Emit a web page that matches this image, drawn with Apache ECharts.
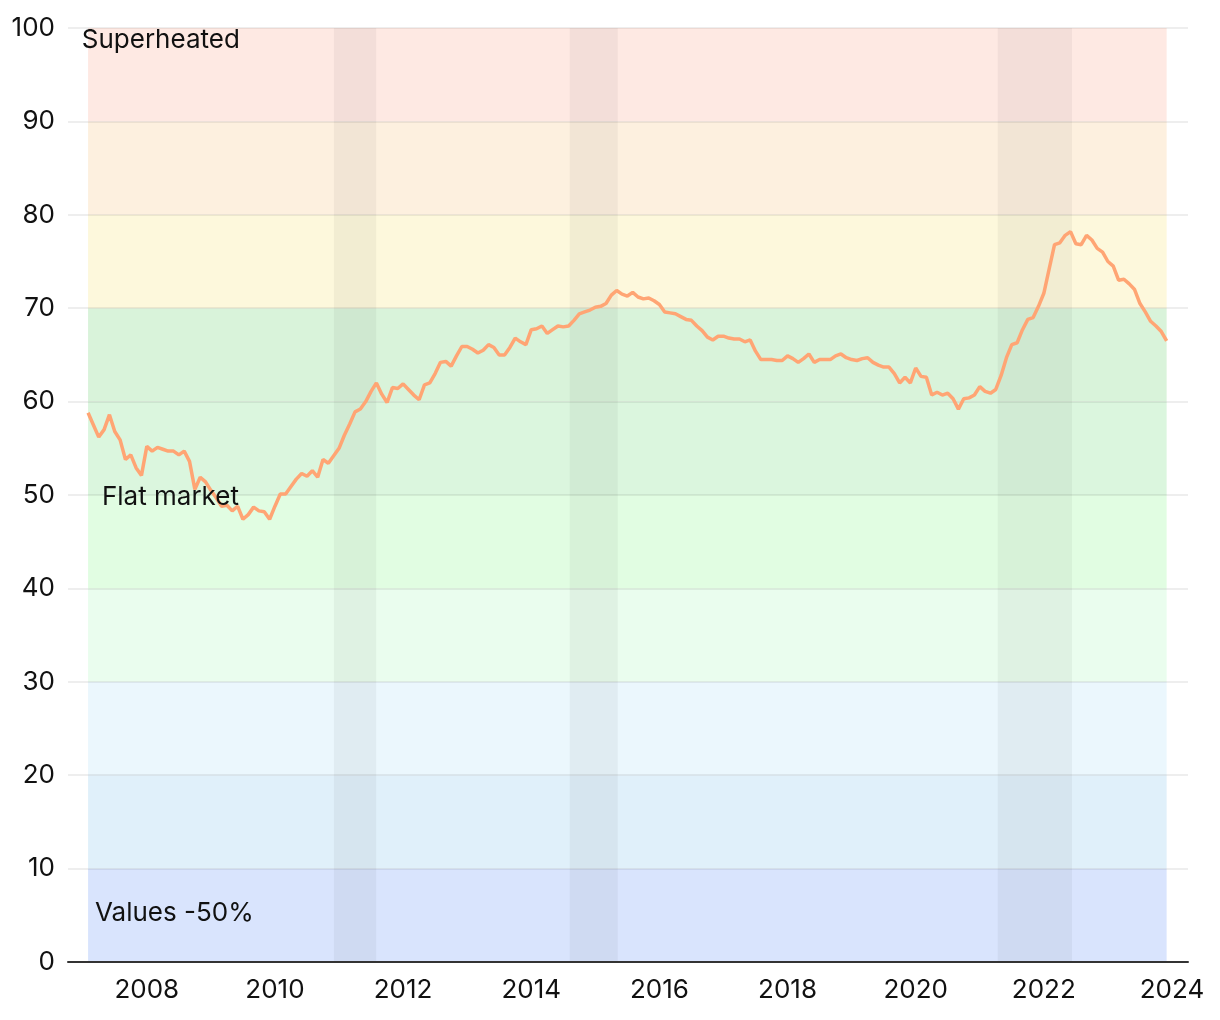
<!DOCTYPE html>
<html>
<head>
<meta charset="utf-8">
<script src="https://cdn.jsdelivr.net/npm/echarts@6/dist/echarts.min.js"></script>
<style>
html,body{margin:0;padding:0;background:#fff;}
#chart{width:1220px;height:1020px;}
</style>
</head>
<body>
<div id="chart"></div>
<script>
// Monthly index values, starting February 2007
const startYear = 2007;
const startMonth = 2;
const values = [
  58.8, 57.5, 56.2, 57.0, 58.6, 56.8, 55.9, 53.8, 54.3, 52.9, 52.1, 55.2, 54.7,
  55.1, 54.9, 54.7, 54.7, 54.3, 54.7, 53.6, 50.6, 51.9, 51.4, 50.5, 49.7, 48.8,
  48.9, 48.3, 48.8, 47.4, 47.9, 48.7, 48.3, 48.2, 47.4, 48.8, 50.1, 50.1, 50.9,
  51.7, 52.3, 52.0, 52.6, 51.9, 53.8, 53.4, 54.2, 55.0, 56.4, 57.6, 58.9, 59.2,
  60.0, 61.1, 62.0, 60.8, 59.9, 61.5, 61.4, 61.9, 61.3, 60.7, 60.2, 61.8, 62.0,
  63.0, 64.2, 64.3, 63.8, 64.9, 65.9, 65.9, 65.6, 65.2, 65.5, 66.1, 65.8, 65.0,
  65.0, 65.8, 66.8, 66.4, 66.1, 67.7, 67.8, 68.1, 67.3, 67.7, 68.1, 68.0, 68.1,
  68.7, 69.4, 69.6, 69.8, 70.1, 70.2, 70.5, 71.4, 71.9, 71.5, 71.3, 71.7, 71.2,
  71.0, 71.1, 70.8, 70.4, 69.6, 69.5, 69.4, 69.1, 68.8, 68.7, 68.1, 67.6, 66.9,
  66.6, 67.0, 67.0, 66.8, 66.7, 66.7, 66.4, 66.6, 65.4, 64.5, 64.5, 64.5, 64.4,
  64.4, 64.9, 64.6, 64.2, 64.6, 65.1, 64.2, 64.5, 64.5, 64.5, 64.9, 65.1, 64.7,
  64.5, 64.4, 64.6, 64.7, 64.2, 63.9, 63.7, 63.7, 63.0, 62.0, 62.6, 62.0, 63.6,
  62.7, 62.6, 60.7, 61.0, 60.7, 60.9, 60.3, 59.2, 60.3, 60.4, 60.7, 61.6, 61.1,
  60.9, 61.3, 62.8, 64.7, 66.1, 66.3, 67.7, 68.8, 69.0, 70.2, 71.6, 74.2, 76.8,
  77.0, 77.8, 78.2, 76.9, 76.8, 77.8, 77.3, 76.4, 76.0, 75.0, 74.5, 73.0, 73.1,
  72.6, 72.0, 70.5, 69.6, 68.6, 68.1, 67.5, 66.5
];

// Horizontal zones (bottom edge of each 10-pt band) and colours
const bandStarts = [0, 10, 20, 30, 40, 50, 60, 70, 80, 90];
const bandColors = ['#d9e4fd', '#e0f0fa', '#ebf7fd', '#eafdee', '#e1fde2', '#dbf6de', '#d9f3da', '#fdf8dc', '#fdf0df', '#fee9e3'];

// Shaded periods (decimal years)
const shadedPeriods = [[2010.92, 2011.58], [2014.6, 2015.35], [2021.28, 2022.44]];

// Zone labels: [text, year, value]
const zoneLabels = [
  ['Superheated', 2006.985, 98.7],
  ['Flat market', 2007.30, 49.8],
  ['Values -50%', 2007.19, 5.25]
];

const xTickYears = [2008, 2010, 2012, 2014, 2016, 2018, 2020, 2022, 2024];
const yTicks = [0, 10, 20, 30, 40, 50, 60, 70, 80, 90, 100];

const FONT = 'Inter, "Noto Sans", sans-serif';
const FS = 26;

const lineData = values.map((v, i) => [startYear + (startMonth - 1 + i) / 12, v]);
const xFirst = lineData[0][0];
const xLast = lineData[lineData.length - 1][0];

const bandAreas = bandStarts.map((b, i) => [
  { xAxis: xFirst, yAxis: b, itemStyle: { color: bandColors[i] } },
  { xAxis: xLast, yAxis: b + 10 }
]);
const shadeAreas = shadedPeriods.map(p => [
  { xAxis: p[0], yAxis: 0, itemStyle: { color: 'rgba(0,0,0,0.045)' } },
  { xAxis: p[1], yAxis: 100 }
]);

const chart = echarts.init(document.getElementById('chart'), null, { renderer: 'canvas' });
chart.setOption({
  animation: false,
  textStyle: { fontFamily: FONT },
  grid: { left: 68, right: 32, top: 28, bottom: 58, containLabel: false },
  xAxis: {
    type: 'value',
    min: 2006.77,
    max: 2024.25,
    z: 4,
    axisLine: { show: true, lineStyle: { color: '#333', width: 2 } },
    axisTick: { show: false },
    splitLine: { show: false },
    axisLabel: {
      customValues: xTickYears,
      formatter: v => String(v),
      color: '#111',
      fontSize: FS,
      fontFamily: FONT,
      margin: 15
    }
  },
  yAxis: {
    type: 'value',
    min: 0,
    max: 100,
    interval: 10,
    z: 3,
    axisLine: { show: false },
    axisTick: { show: false },
    splitLine: { show: true, lineStyle: { color: 'rgba(0,0,0,0.09)', width: 1.5 } },
    axisLabel: {
      customValues: yTicks,
      color: '#111',
      fontSize: FS,
      fontFamily: FONT,
      margin: 13
    }
  },
  series: [
    {
      type: 'line',
      z: 1,
      data: [],
      silent: true,
      markArea: { silent: true, data: bandAreas.concat(shadeAreas) }
    },
    {
      type: 'line',
      z: 5,
      data: lineData,
      showSymbol: false,
      symbol: 'none',
      smooth: false,
      lineStyle: { color: '#ffa574', width: 3.5 },
      emphasis: { disabled: true }
    },
    {
      type: 'scatter',
      z: 6,
      symbolSize: 0,
      silent: true,
      itemStyle: { opacity: 1 },
      data: zoneLabels.map(l => ({ value: [l[1], l[2]], name: l[0] })),
      label: {
        show: true,
        position: 'right',
        distance: 0,
        opacity: 1,
        formatter: p => p.name,
        color: '#111',
        fontSize: FS,
        fontFamily: FONT
      }
    }
  ]
});
</script>
</body>
</html>
